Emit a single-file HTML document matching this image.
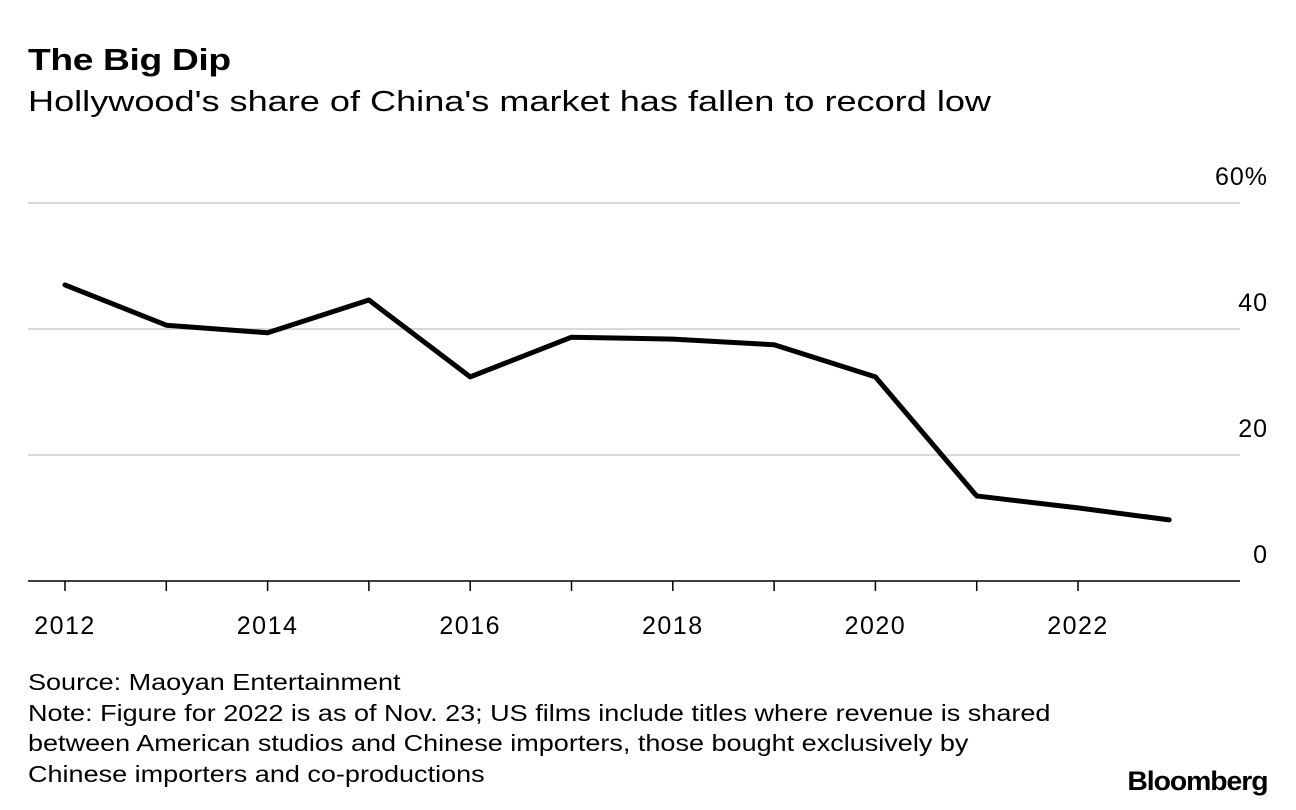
<!DOCTYPE html>
<html><head><meta charset="utf-8">
<style>
body{margin:0;width:1296px;height:810px;background:#fff;font-family:"Liberation Sans",Arial,sans-serif;color:#000;overflow:hidden;position:relative}
.t{position:absolute;left:28px;white-space:nowrap;transform-origin:0 0}
</style></head>
<body>
<div class="t" style="top:42px;font-size:31px;font-weight:bold;letter-spacing:-0.3px;transform:scaleX(1.2)">The Big Dip</div>
<div class="t" style="top:86px;font-size:29px;transform:scaleX(1.245)">Hollywood's share of China's market has fallen to record low</div>
<svg id="chart" width="1296" height="660" style="position:absolute;left:0;top:0"></svg>
<div class="t" style="top:667px;font-size:23px;line-height:30.5px;transform:scaleX(1.175)">Source: Maoyan Entertainment<br>Note: Figure for 2022 is as of Nov. 23; US films include titles where revenue is shared<br>between American studios and Chinese importers, those bought exclusively by<br>Chinese importers and co-productions</div>
<div style="position:absolute;right:28px;top:766px;font-size:27px;font-weight:bold;letter-spacing:-1px;transform:scaleX(1.05);transform-origin:100% 0">Bloomberg</div>
<script>
const years=[2012,2013,2014,2015,2016,2017,2018,2019,2020,2021,2022,2022.9];
const shares=[47.0,40.6,39.4,44.6,32.4,38.7,38.4,37.5,32.4,13.5,11.6,9.7];
const yTicks=[0,20,40,60];
const yTickLabels=["0","20","40","60%"];
const xTicks=[2012,2014,2016,2018,2020,2022];
const xTickYears=[2012,2013,2014,2015,2016,2017,2018,2019,2020,2021,2022];
const NS="http://www.w3.org/2000/svg";
const svg=document.getElementById('chart');
const x=v=>65+(v-2012)*101.3;
const y=v=>581-v*6.3;
function mk(tag,attrs){const e=document.createElementNS(NS,tag);for(const k in attrs)e.setAttribute(k,attrs[k]);svg.appendChild(e);return e;}
yTicks.forEach((v,i)=>{
  if(v>0){const g=mk('line',{x1:28,x2:1240,y1:y(v),y2:y(v),stroke:'#d9d9d9','stroke-width':2});
  
  }
  const t=mk('text',{x:1268,y:y(v)-18,'text-anchor':'end','font-size':25,'letter-spacing':1,'font-family':'Liberation Sans, Arial, sans-serif'});
  t.textContent=yTickLabels[i];
  
  
});
const base=mk('line',{x1:28,x2:1240,y1:y(0),y2:y(0),stroke:'#000','stroke-width':1.5});


xTickYears.forEach(v=>{
  const tk=mk('line',{x1:x(v),x2:x(v),y1:y(0),y2:y(0)+10,stroke:'#000','stroke-width':1.5});
  
  
});
xTicks.forEach(v=>{
  const t=mk('text',{x:x(v),y:634,'text-anchor':'middle','font-size':25,'letter-spacing':1.5,'font-family':'Liberation Sans, Arial, sans-serif'});
  t.textContent=v;
  
  
});
const pts=years.map((yr,i)=>x(yr)+','+y(shares[i])).join(' ');
const line=mk('polyline',{points:pts,fill:'none',stroke:'#000','stroke-width':5,'stroke-linejoin':'round','stroke-linecap':'round'});


</script>
</body></html>
